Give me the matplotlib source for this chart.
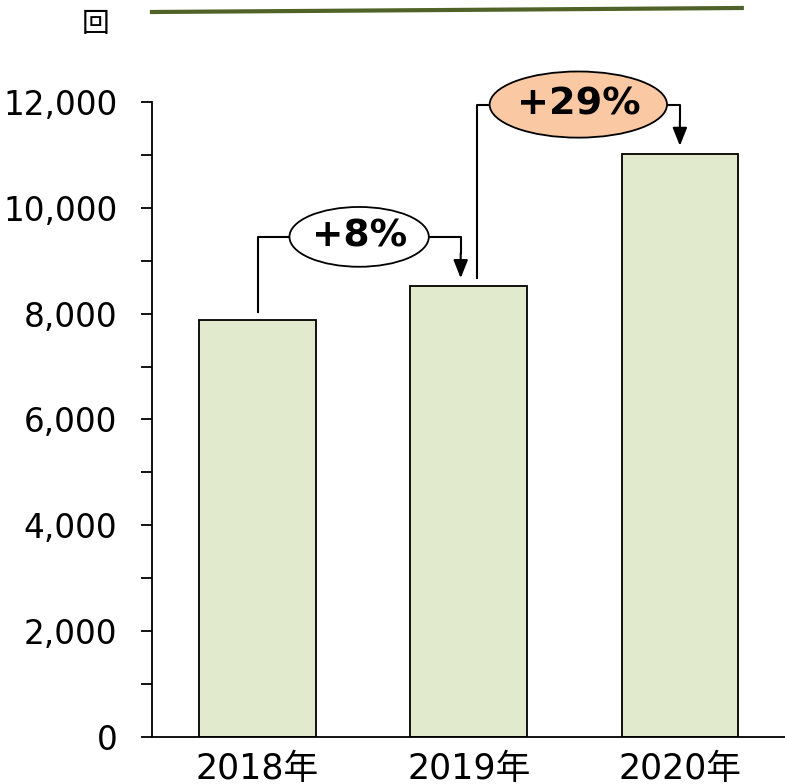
import matplotlib.pyplot as plt
from matplotlib.patches import Ellipse
from matplotlib.ticker import MultipleLocator, FuncFormatter

plt.rcParams['font.family'] = ['DejaVu Sans', 'Noto Sans CJK JP']

# データ
years = ['2018年', '2019年', '2020年']
counts = [7880, 8520, 11020]
y_ticks = [0, 2000, 4000, 6000, 8000, 10000, 12000]
unit = '回'

# 伸び率の吹き出し (左の棒, 右の棒, 楕円の色)
growth = [(0, 1, 'white'), (1, 2, '#FAC9A3')]

bar_color = '#E1EACD'
line_color = '#4F6228'

fig = plt.figure(figsize=(7.85, 7.84), dpi=100)
ax = fig.add_axes([0.1936, 0.06, 0.807, 0.81])

x = list(range(len(years)))
ax.bar(x, counts, width=0.553, color=bar_color, edgecolor='black', linewidth=1.3, zorder=2)

ax.set_xlim(-0.5, 2.5)
ax.set_ylim(0, 12000)
ax.set_yticks(y_ticks)
ax.yaxis.set_minor_locator(MultipleLocator(1000))
ax.yaxis.set_major_formatter(FuncFormatter(lambda v, p: f'{int(v):,}'))
ax.tick_params(axis='y', which='both', length=8, width=1.3, pad=17, labelsize=23.5)
ax.set_xticks(x)
ax.set_xticklabels(years)
ax.tick_params(axis='x', length=0, pad=11, labelsize=25)

for s in ['top', 'right']:
    ax.spines[s].set_visible(False)
ax.spines['left'].set_linewidth(1.3)
ax.spines['bottom'].set_linewidth(1.3)

# 伸び率の矢印
sizes = [(0.66, 1130, 27), (0.84, 1250, 27.5)]
for (i, j, fc), (ew, eh, fs) in zip(growth, sizes):
    xl = i + (0.038 if i > 0 else 0)
    xr = j - (0.038 if j < 2 else 0)
    level = max(counts[i], counts[j]) + 930
    xc = (xl + xr) / 2
    ax.plot([xl, xl, xr, xr], [counts[i] + 150, level, level, level - 300],
            color='black', lw=1.5, zorder=3, clip_on=False)
    ax.annotate('', xy=(xr, counts[j] + 150), xytext=(xr, level - 310),
                arrowprops=dict(arrowstyle='-|>,head_length=0.55,head_width=0.22',
                                mutation_scale=20, color='black', lw=1.5,
                                shrinkA=0, shrinkB=0),
                zorder=3, annotation_clip=False)
    ax.add_patch(Ellipse((xc, level), ew, eh, facecolor=fc, edgecolor='black',
                         lw=1.3, zorder=4, clip_on=False))
    pct = round((counts[j] / counts[i] - 1) * 100)
    ax.text(xc, level, f'+{pct}%', ha='center', va='center', fontsize=fs,
            fontweight='bold', zorder=5)

# 上部の線と単位
fig.add_artist(plt.Line2D([0.1936, 0.945], [0.9847, 0.9898], color=line_color, lw=3))
fig.text(0.122, 0.969, unit, ha='center', va='center', fontsize=20,
         family=['Noto Sans CJK JP'])

fig.savefig('out.png', dpi=100)
